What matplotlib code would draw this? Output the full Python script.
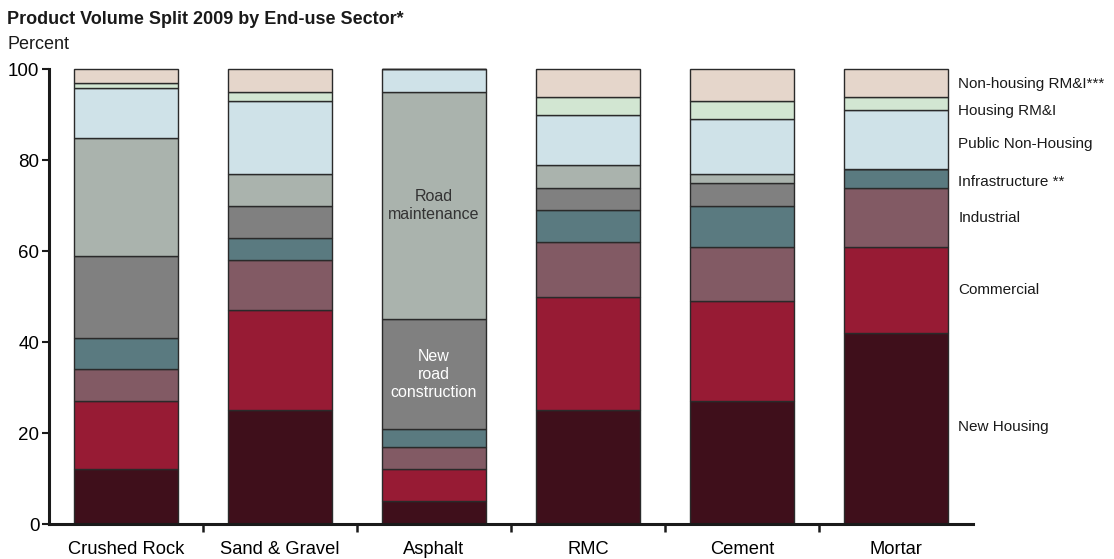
import matplotlib
matplotlib.use("Agg")
import matplotlib.pyplot as plt
import numpy as np

plt.rcParams['font.family'] = ['Liberation Sans', 'DejaVu Sans']

categories = ["Crushed Rock", "Sand & Gravel", "Asphalt", "RMC", "Cement", "Mortar"]
segments = ["New Housing", "Commercial", "Industrial", "Infrastructure **",
            "New road construction", "Road maintenance",
            "Public Non-Housing", "Housing RM&I", "Non-housing RM&I***"]
new_housing     = [12, 25, 5, 25, 27, 42]
commercial      = [15, 22, 7, 25, 22, 19]
industrial      = [7, 11, 5, 12, 12, 13]
infrastructure  = [7, 5, 4, 7, 9, 4]
new_road        = [18, 7, 24, 5, 5, 0]
road_maint      = [26, 7, 50, 5, 2, 0]
public_nonhouse = [11, 16, 5, 11, 12, 13]
housing_rmi     = [1, 2, 0, 4, 4, 3]
nonhousing_rmi  = [3, 5, 0, 6, 7, 6]
series = [new_housing, commercial, industrial, infrastructure, new_road,
          road_maint, public_nonhouse, housing_rmi, nonhousing_rmi]
colors = ["#3f0f1b", "#971b34", "#825a64", "#5a7a80", "#808080",
          "#aab3ad", "#cfe2e8", "#d2e6d2", "#e5d6cb"]

right_labels = ["Non-housing RM&I***", "Housing RM&I", "Public Non-Housing",
                "Infrastructure **", "Industrial", "Commercial", "New Housing"]
right_label_y = [96.7, 90.8, 83.7, 75.2, 67.3, 51.4, 21.3]

fig = plt.figure(figsize=(11.14, 5.59), dpi=100)
ax = fig.add_axes([0.044, 0.0626, 0.8294, 0.8131])

x = np.arange(len(categories))
bottom = np.zeros(len(categories))
for vals, col in zip(series, colors):
    v = np.array(vals, dtype=float)
    ax.bar(x, v, width=0.675, bottom=bottom, color=col, edgecolor="#2a2a2a",
           linewidth=1.0, clip_on=False, zorder=2)
    bottom += v

# annotations in asphalt bar
ai = categories.index("Asphalt")
base = sum(s[ai] for s in series[:4])
ax.text(x[ai], base + new_road[ai] / 2, "New\nroad\nconstruction", ha="center",
        va="center", color="white", fontsize=11.5, linespacing=1.25, zorder=3)
ax.text(x[ai], base + new_road[ai] + road_maint[ai] / 2, "Road\nmaintenance",
        ha="center", va="center", color="#333333", fontsize=11.5, linespacing=1.25, zorder=3)

ax.set_xlim(-0.5, 5.5)
ax.set_ylim(0, 100)
ax.set_yticks([0, 20, 40, 60, 80, 100])
ax.set_xticks(x)
ax.set_xticklabels(categories, fontsize=13.2)
ax.set_xticks(np.arange(0.5, 5.5, 1.0), minor=True)
ax.tick_params(axis="x", which="major", length=0, pad=12)
ax.tick_params(axis="x", which="minor", length=6, width=1.8, direction="out", color="#1a1a1a")
ax.tick_params(axis="y", length=5, width=1.5, labelsize=13.5, pad=2, color="#1a1a1a")
for s in ["top", "right"]:
    ax.spines[s].set_visible(False)
for s in ["left", "bottom"]:
    ax.spines[s].set_linewidth(2.2)
    ax.spines[s].set_color("#1a1a1a")
    ax.spines[s].set_zorder(4)

for lab, yy in zip(right_labels, right_label_y):
    ax.text(5.5 - 0.095, yy, lab, transform=ax.transData, ha="left", va="center",
            fontsize=11, color="#1a1a1a", clip_on=False)

fig.text(0.0063, 0.966, "Product Volume Split 2009 by End-use Sector*", fontsize=13,
         fontweight="bold", ha="left", va="center", color="#1a1a1a")
fig.text(0.0063, 0.921, "Percent", fontsize=13, ha="left", va="center", color="#1a1a1a")

fig.savefig("out.png", dpi=100)
